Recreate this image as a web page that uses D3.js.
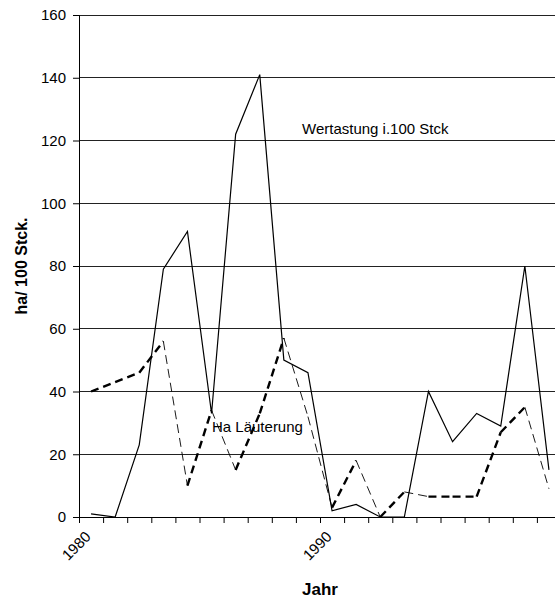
<!DOCTYPE html>
<html><head><meta charset="utf-8">
<script src="https://cdn.jsdelivr.net/npm/d3@7"></script>
<style>
body{margin:0;background:#fff;}
svg{display:block;font-family:"Liberation Sans",Arial,sans-serif;}
</style></head>
<body>
<svg id="c" width="555" height="601"></svg>
<script>
const years = [1980,1981,1982,1983,1984,1985,1986,1987,1988,1989,1990,1991,1992,1993,1994,1995,1996,1997,1998,1999];
const wertastung = [1,0,23,79,91,33,122,141,50,46,2,4,0,0,40,24,33,29,80,15];
const laeuterung = [40,43,46,56,10,34,15,33,57,32,3,18,0,8,6.5,6.5,6.5,27,35,9];
const yTicks = [0,20,40,60,80,100,120,140,160];
const xLabels = [1980,1990];
const seriesLabels = ["Wertastung i.100 Stck","Ha Läuterung"];
const yTitle = "ha/ 100 Stck.";
const xTitle = "Jahr";

const svg = d3.select("#c");
const L = 79, R = 561, T = 15, B = 517;
const x = d3.scaleBand().domain(years).range([L,R]).padding(0);
const xt = d3.scaleLinear().domain([0,years.length]).range([L,R]);
const y = d3.scaleLinear().domain([0,160]).range([B,T]);
const cx = d => x(d) + x.bandwidth()/2;

// gridlines
svg.append("g").selectAll("line").data(yTicks.filter(v=>v>0)).join("line")
  .attr("x1",L).attr("x2",R).attr("y1",d=>y(d)).attr("y2",d=>y(d))
  .attr("stroke","#222").attr("stroke-width",1).attr("shape-rendering","crispEdges");

// y axis
const ya = svg.append("g").attr("transform",`translate(${L},0)`)
  .call(d3.axisLeft(y).tickValues(yTicks).tickSize(6).tickPadding(7));
ya.select(".domain").attr("stroke","#000");
ya.selectAll(".tick line").attr("stroke","#000");
ya.selectAll("text").attr("font-size",15).attr("font-family","Liberation Sans, Arial").attr("fill","#000");

// x axis ticks (between categories)
const xa = svg.append("g").attr("transform",`translate(0,${B})`)
  .call(d3.axisBottom(xt).tickValues(d3.range(0,years.length+1)).tickSize(6).tickFormat(""));
xa.select(".domain").attr("stroke","#000");
xa.selectAll(".tick line").attr("stroke","#000");

// x labels
svg.append("g").selectAll("text").data(xLabels).join("text")
  .attr("transform",d=>`translate(${cx(d)-3},${B+17}) rotate(-45)`)
  .attr("text-anchor","end").attr("dy","0.35em")
  .attr("font-size",15).attr("fill","#000").text(d=>d);

// Wertastung solid line
const line = d3.line().x((d,i)=>cx(years[i])).y(d=>y(d));
svg.append("path").datum(wertastung).attr("d",line)
  .attr("fill","none").attr("stroke","#000").attr("stroke-width",1.2);

// Läuterung dashed: segment by segment
const segs = d3.range(laeuterung.length-1).map(i=>({a:i,b:i+1}));
svg.append("g").selectAll("line").data(segs).join("line")
  .attr("x1",s=>cx(years[s.a])).attr("y1",s=>y(laeuterung[s.a]))
  .attr("x2",s=>cx(years[s.b])).attr("y2",s=>y(laeuterung[s.b]))
  .attr("stroke","#000")
  .attr("stroke-width",s=>laeuterung[s.b] >= laeuterung[s.a] ? 2.4 : 0.9)
  .attr("stroke-dasharray",s=>laeuterung[s.b] >= laeuterung[s.a] ? "8,5" : "9,5");

// series annotations
svg.append("text").attr("x",302).attr("y",134).attr("font-size",15).attr("fill","#000").text(seriesLabels[0]);
svg.append("text").attr("x",212).attr("y",432).attr("font-size",15).attr("fill","#000").text(seriesLabels[1]);

// axis titles
svg.append("text").attr("transform",`translate(27,${(T+B)/2}) rotate(-90)`)
  .attr("text-anchor","middle").attr("font-size",16).attr("font-weight","bold").text(yTitle);
svg.append("text").attr("x",320).attr("y",595).attr("text-anchor","middle")
  .attr("font-size",17).attr("font-weight","bold").text(xTitle);
</script>
</body></html>
